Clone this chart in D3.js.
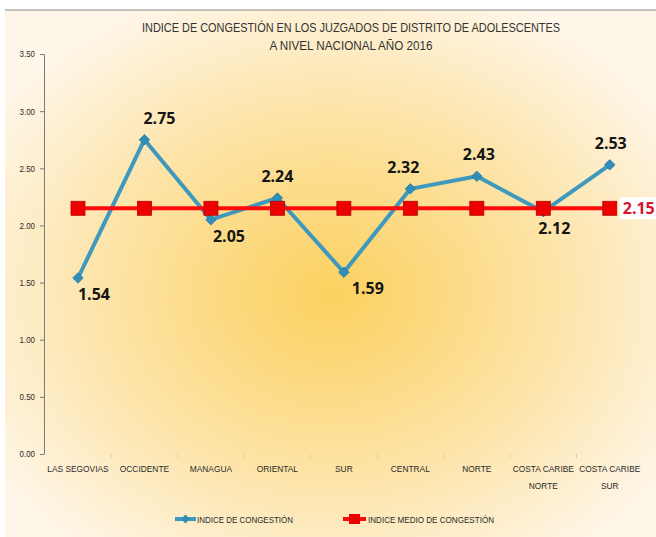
<!DOCTYPE html>
<html lang="es">
<head>
<meta charset="utf-8">
<title>Indice de congestión 2016</title>
<script src="https://cdn.jsdelivr.net/npm/d3@7/dist/d3.min.js"></script>
<style>
  body { margin: 0; background: #fff; }
  .small { font-family: "Liberation Sans", sans-serif; fill: #2b2b2b; }
  .title { font-size: 12px; text-anchor: middle; fill: #333; }
  .tick text { font-family: "Liberation Sans", sans-serif; font-size: 9px; fill: #2b2b2b; }
  .val { font-family: "Open Sans", "Liberation Sans", sans-serif; font-size: 16px; font-weight: bold; fill: #151515; }
</style>
</head>
<body>
<script>
// data
var regions = [["LAS SEGOVIAS"], ["OCCIDENTE"], ["MANAGUA"], ["ORIENTAL"], ["SUR"],
               ["CENTRAL"], ["NORTE"], ["COSTA CARIBE", "NORTE"], ["COSTA CARIBE", "SUR"]];
var indice = [1.54, 2.75, 2.05, 2.24, 1.59, 2.32, 2.43, 2.12, 2.53];
var indiceMedio = [2.15, 2.15, 2.15, 2.15, 2.15, 2.15, 2.15, 2.15, 2.15];
var yTicks = [0, 0.5, 1, 1.5, 2, 2.5, 3, 3.5];
var titleLines = ["INDICE DE CONGESTIÓN EN LOS JUZGADOS DE DISTRITO DE ADOLESCENTES",
                  "A NIVEL NACIONAL AÑO 2016"];
var seriesNames = ["INDICE DE CONGESTIÓN", "INDICE MEDIO DE CONGESTIÓN"];

var w = 656, h = 537;
var blue = "#3f98bd", red = "#ff0a0a";

// narrow the small texts a bit (the original font is condensed)
function narrow(sel, k) {
  sel.each(function() {
    var n = this.getComputedTextLength();
    d3.select(this).attr("textLength", n * k).attr("lengthAdjust", "spacingAndGlyphs");
  });
}

var svg = d3.select("body").append("svg").attr("width", w).attr("height", h);

// background gradient
var grad = svg.append("defs").append("radialGradient")
    .attr("id", "bg").attr("cx", "50%").attr("cy", "54%").attr("r", "62%");
grad.append("stop").attr("offset", "0%").attr("stop-color", "#fbd15f");
grad.append("stop").attr("offset", "55%").attr("stop-color", "#fde3a6");
grad.append("stop").attr("offset", "100%").attr("stop-color", "#fef6e9");

svg.append("rect").attr("x", 5).attr("y", 10).attr("width", w - 5).attr("height", h - 10)
   .attr("fill", "url(#bg)");
svg.append("line").attr("x1", 5).attr("x2", w).attr("y1", 10).attr("y2", 10)
   .attr("stroke", "#8a8a8a").attr("stroke-width", 1.2);

// title
svg.selectAll(".title").data(titleLines).enter().append("text")
   .attr("class", "small title")
   .attr("x", 351).attr("y", function(d, i) { return 32 + i * 18; })
   .attr("textLength", function(d, i) { return i === 0 ? 418 : 163; })
   .attr("lengthAdjust", "spacingAndGlyphs")
   .text(function(d) { return d; });

var x = d3.scalePoint().domain(d3.range(regions.length)).range([44.75, 643]).padding(0.5);
var step = x.step();
var y = d3.scaleLinear().domain([0, 3.5]).range([454, 54]);

// y axis
var yAxis = svg.append("g").attr("transform", "translate(44,0)")
   .call(d3.axisLeft(y).tickValues(yTicks).tickFormat(d3.format(".2f")).tickSize(4).tickSizeOuter(0));
yAxis.select(".domain").attr("stroke", "#7a7a7a");
yAxis.selectAll(".tick line").attr("stroke", "#7a7a7a");
yAxis.selectAll(".tick text").attr("x", -9);
narrow(yAxis.selectAll(".tick text"), 0.88);

// x axis (faint)
svg.selectAll(".xtick").data(d3.range(1, regions.length)).enter().append("line")
   .attr("x1", function(d) { return x(d) - step / 2; })
   .attr("x2", function(d) { return x(d) - step / 2; })
   .attr("y1", 454).attr("y2", 458).attr("stroke", "#e0cda3");

var xl = svg.selectAll(".xlab").data(regions).enter().append("text")
   .attr("class", "small").attr("font-size", "9.5px").attr("text-anchor", "middle")
   .attr("x", function(d, i) { return x(i); }).attr("y", 472);
var xt = xl.selectAll("tspan").data(function(d) { return d; }).enter().append("tspan")
   .attr("x", function() { return d3.select(this.parentNode).attr("x"); })
   .attr("dy", function(d, i) { return i === 0 ? 0 : 17; })
   .text(function(d) { return d; });
narrow(xt, 0.88);

var line = d3.line().x(function(d, i) { return x(i); }).y(function(d) { return y(d); });

// blue series
svg.append("path").datum(indice).attr("d", line)
   .attr("fill", "none").attr("stroke", blue).attr("stroke-width", 4).attr("stroke-linejoin", "round");
svg.selectAll(".dia").data(indice).enter().append("path")
   .attr("d", d3.symbol().type(d3.symbolDiamond2).size(70))
   .attr("transform", function(d, i) { return "translate(" + x(i) + "," + y(d) + ")"; })
   .attr("fill", "#2f8fb8").attr("stroke", "#2a7ea3").attr("stroke-width", 0.8);

// red series
svg.append("path").datum(indiceMedio).attr("d", line)
   .attr("fill", "none").attr("stroke", red).attr("stroke-width", 4);
svg.selectAll(".sq").data(indiceMedio).enter().append("rect")
   .attr("x", function(d, i) { return x(i) - 7; }).attr("y", function(d) { return y(d) - 7; })
   .attr("width", 14).attr("height", 14)
   .attr("fill", "#ee0000").attr("stroke", "#b30000").attr("stroke-width", 0.8);

// value labels (placement offsets for readability)
var above = [false, true, false, true, false, true, true, false, true];
var dxs = [16, 15, 18, 0, 24, -7, 2, 11, 1];
svg.selectAll(".val").data(indice).enter().append("text")
   .attr("class", "val").attr("text-anchor", "middle")
   .attr("x", function(d, i) { return x(i) + dxs[i]; })
   .attr("y", function(d, i) { return above[i] ? y(d) - 16 : y(d) + 22; })
   .text(function(d) { return d3.format(".2f")(d); });

// mean label
var last = indiceMedio.length - 1;
svg.append("rect").attr("x", x(last) + 10).attr("y", y(indiceMedio[last]) - 11)
   .attr("width", 46).attr("height", 22).attr("fill", "#fff");
svg.append("text").attr("class", "val").style("fill", "#d8132b")
   .attr("x", x(last) + 13).attr("y", y(indiceMedio[last]) + 6)
   .text(d3.format(".2f")(indiceMedio[last]));

// legend
var leg = svg.append("g").attr("transform", "translate(0,519)");
leg.append("line").attr("x1", 175).attr("x2", 196).attr("stroke", blue).attr("stroke-width", 4);
leg.append("path").attr("d", d3.symbol().type(d3.symbolDiamond2).size(50))
   .attr("transform", "translate(185.5,0)").attr("fill", "#2f8fb8");
leg.append("line").attr("x1", 343).attr("x2", 366).attr("stroke", red).attr("stroke-width", 4);
leg.append("rect").attr("x", 349).attr("y", -5).attr("width", 11).attr("height", 10).attr("fill", "#ee0000");
leg.selectAll(".lt").data(seriesNames).enter().append("text")
   .attr("class", "small").attr("font-size", "9.5px")
   .attr("x", function(d, i) { return i === 0 ? 197 : 368; }).attr("y", 3.5)
   .attr("textLength", function(d, i) { return i === 0 ? 96 : 126; })
   .attr("lengthAdjust", "spacingAndGlyphs")
   .text(function(d) { return d; });
</script>
</body>
</html>
